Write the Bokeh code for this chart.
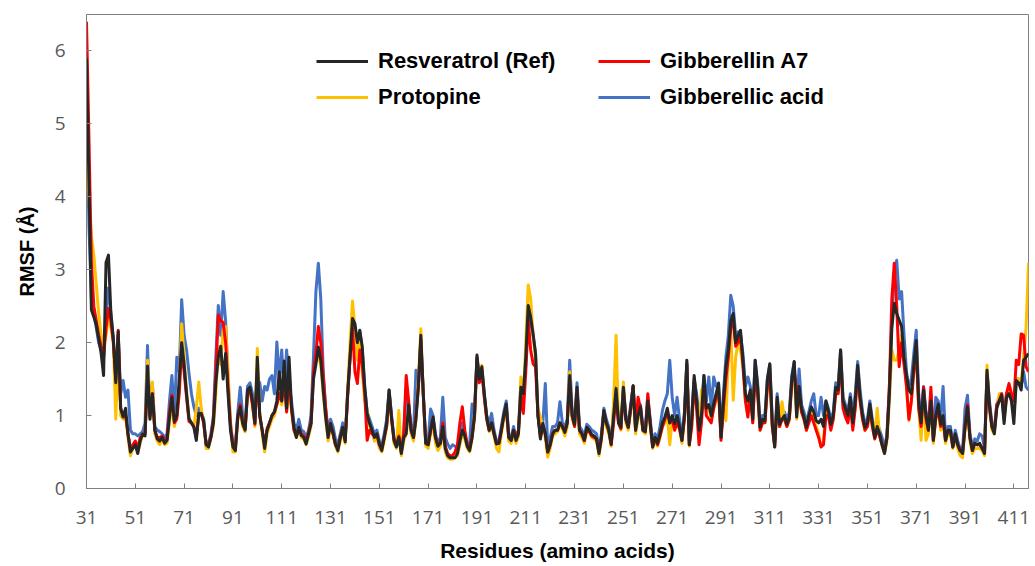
from bokeh.plotting import figure
from bokeh.models import Range1d, FixedTicker, Legend, LegendItem, ColumnDataSource
from bokeh.embed import file_html
from bokeh.resources import INLINE

residues = list(range(31, 418))
x_ticks = [31, 51, 71, 91, 111, 131, 151, 171, 191, 211, 231, 251, 271, 291, 311, 331, 351, 371, 391, 411]
y_ticks = [0, 1, 2, 3, 4, 5, 6]

resveratrol = [
    5.9, 4.2, 2.45, 2.35, 2.25, 2.05, 1.85, 1.55, 3.1, 3.2,
    2.4, 2.05, 1.45, 2.15, 1.1, 0.98, 1.1, 0.75, 0.5, 0.55,
    0.6, 0.48, 0.65, 0.75, 0.72, 1.68, 0.95, 1.3, 0.8, 0.68,
    0.65, 0.7, 0.62, 0.66, 0.98, 1.25, 0.92, 1.0, 1.5, 2.0,
    1.7, 1.3, 0.96, 0.9, 0.84, 0.66, 1.03, 1.03, 0.93, 0.6,
    0.57, 0.7, 0.9, 1.45, 1.8, 1.95, 1.5, 1.85, 1.3, 0.8,
    0.57, 0.52, 0.98, 1.12, 0.89, 0.8, 1.35, 1.39, 1.2, 0.9,
    1.8, 1.0, 0.8, 0.55, 0.8, 0.9, 1.0, 1.05, 1.2, 1.6,
    1.2, 1.75, 1.1, 1.8, 1.12, 0.84, 0.7, 0.84, 0.73, 0.7,
    0.61, 0.75, 0.89, 1.5, 1.7, 1.94, 1.76, 1.35, 0.98, 0.7,
    0.89, 0.77, 0.61, 0.52, 0.7, 0.84, 0.64, 1.3, 1.8, 2.33,
    2.26, 2.0, 2.17, 1.94, 1.39, 1.03, 0.89, 0.8, 0.7, 0.75,
    0.61, 0.52, 0.7, 0.89, 1.35, 0.98, 0.66, 0.57, 0.7, 0.48,
    0.7, 0.75, 1.15, 0.8, 0.7, 0.95, 1.4, 2.1, 1.3, 0.62,
    0.6, 0.8, 0.98, 0.7, 0.58, 0.62, 0.85, 0.55, 0.45, 0.42,
    0.42, 0.42, 0.48, 0.65, 0.8, 0.72, 0.58, 0.52, 0.7, 1.0,
    1.83, 1.5, 1.67, 1.3, 0.98, 0.8, 0.9, 0.75, 0.61, 0.62,
    0.8, 1.0, 1.16, 0.7, 0.66, 0.8, 0.66, 0.75, 1.39, 1.3,
    1.8, 2.51, 2.35, 2.12, 1.85, 1.0, 0.68, 0.89, 0.75, 0.5,
    0.6, 0.75, 0.8, 0.8, 0.9, 0.85, 0.77, 0.9, 1.55, 1.0,
    0.88, 1.39, 0.8, 0.75, 0.66, 0.84, 0.8, 0.74, 0.72, 0.68,
    0.48, 0.7, 1.07, 0.9, 0.8, 0.61, 1.0, 1.37, 0.9, 0.84,
    1.39, 0.95, 0.84, 1.1, 1.41, 0.8, 1.0, 1.12, 0.8, 0.78,
    1.2, 0.89, 0.57, 0.7, 0.62, 0.75, 0.9, 0.98, 1.1, 0.9,
    1.0, 0.89, 1.0, 0.85, 0.66, 1.0, 1.76, 0.6, 0.95, 1.55,
    1.2, 0.8, 1.0, 1.55, 1.1, 1.15, 1.0, 1.16, 1.3, 1.44,
    0.7, 1.2, 1.67, 1.9, 2.3, 2.4, 2.0, 2.1, 2.17, 1.76,
    1.3, 1.2, 1.35, 0.95, 1.76, 1.4, 0.84, 0.95, 0.93, 1.5,
    1.71, 0.9, 0.57, 1.25, 0.88, 0.95, 1.0, 0.88, 0.98, 1.5,
    1.74, 0.98, 1.4, 1.1, 0.98, 0.84, 1.0, 1.12, 1.05, 0.93,
    0.9, 0.95, 0.85, 1.2, 1.06, 0.88, 1.0, 1.39, 1.35, 1.9,
    1.2, 1.1, 1.0, 1.25, 0.9, 1.2, 1.69, 1.25, 1.0, 0.84,
    0.9, 1.16, 0.9, 0.7, 0.85, 0.75, 0.6, 0.48, 0.7, 1.3,
    2.2, 2.54, 2.4, 2.31, 2.22, 1.8, 1.55, 1.35, 1.3, 1.7,
    2.03, 1.2, 0.9, 1.35, 1.0, 0.8, 1.2, 0.66, 1.0, 1.16,
    0.88, 1.0, 0.66, 0.8, 0.8, 0.57, 0.75, 0.6, 0.52, 0.48,
    0.85, 1.12, 0.7, 0.52, 0.62, 0.6, 0.62, 0.55, 0.48, 1.62,
    1.15, 0.85, 0.75, 1.1, 1.2, 1.28, 0.89, 1.25, 1.3, 1.2,
    0.89, 1.48, 1.45, 1.35, 1.76, 1.8, 1.85,
]

gibberellin_a7 = [
    6.4, 4.8, 3.1, 2.5, 2.3, 2.1, 1.95, 1.8, 2.2, 2.47,
    2.3, 2.0, 1.5, 2.17, 1.1, 1.0, 1.0, 0.75, 0.55, 0.6,
    0.65, 0.55, 0.7, 0.72, 0.75, 1.5, 1.0, 1.3, 0.8, 0.7,
    0.7, 0.72, 0.66, 0.68, 1.05, 1.28, 0.9, 0.95, 1.3, 1.95,
    1.6, 1.25, 0.92, 0.9, 0.85, 0.7, 1.0, 1.03, 0.9, 0.62,
    0.6, 0.72, 0.95, 1.6, 2.38, 2.3, 2.28, 2.0, 1.4, 0.85,
    0.6, 0.55, 1.0, 1.15, 0.9, 0.82, 1.3, 1.35, 1.15, 0.88,
    1.6, 1.0, 0.8, 0.6, 0.82, 0.9, 1.0, 1.05, 1.15, 1.3,
    1.2, 1.5, 1.05, 1.6, 1.1, 0.8, 0.72, 0.82, 0.75, 0.72,
    0.65, 0.78, 0.9, 1.6, 1.85, 2.22, 2.0, 1.55, 1.1, 0.75,
    0.85, 0.75, 0.6, 0.55, 0.7, 0.82, 0.66, 1.25, 1.8, 2.2,
    1.6, 1.44, 1.9, 1.7, 1.3, 0.66, 0.8, 0.75, 0.72, 0.75,
    0.6, 0.55, 0.7, 0.85, 1.3, 0.95, 0.68, 0.6, 0.72, 0.5,
    0.75, 1.55, 1.2, 0.8, 0.7, 1.0, 1.4, 2.05, 1.3, 0.62,
    0.6, 0.8, 0.95, 0.7, 0.6, 0.62, 0.9, 0.58, 0.48, 0.45,
    0.45, 0.5, 0.6, 0.9, 1.12, 0.8, 0.6, 0.55, 0.72, 1.0,
    1.78, 1.45, 1.6, 1.25, 0.95, 0.8, 0.9, 0.75, 0.62, 0.62,
    0.8, 1.0, 1.1, 0.72, 0.66, 0.8, 0.7, 0.8, 1.3, 1.03,
    1.6, 2.31, 1.9, 1.71, 1.67, 1.0, 0.7, 0.88, 0.75, 0.5,
    0.6, 0.75, 0.8, 0.8, 0.9, 0.85, 0.78, 0.9, 1.5, 1.0,
    0.85, 1.35, 0.8, 0.75, 0.66, 0.8, 0.78, 0.72, 0.7, 0.68,
    0.5, 0.7, 1.05, 0.9, 0.8, 0.6, 0.9, 1.3, 0.9, 0.82,
    1.35, 0.95, 0.84, 1.1, 1.41, 0.8, 1.25, 1.1, 0.8, 0.78,
    1.3, 0.89, 0.57, 0.7, 0.6, 0.72, 0.85, 0.95, 1.05, 0.9,
    0.95, 0.8, 0.9, 0.82, 0.66, 0.95, 1.7, 0.6, 0.85, 1.45,
    1.1, 0.6, 0.9, 1.4, 1.0, 0.95, 0.9, 1.1, 1.25, 1.35,
    0.66, 1.1, 1.5, 1.8, 2.2, 2.3, 1.95, 2.0, 2.1, 1.7,
    1.2, 0.98, 1.3, 0.9, 1.6, 1.3, 0.8, 0.9, 0.9, 1.4,
    1.6, 0.85, 0.57, 1.2, 0.85, 0.95, 0.95, 0.85, 0.95, 1.45,
    1.6, 1.35, 1.3, 1.05, 0.95, 0.8, 0.9, 1.0, 0.9, 0.8,
    0.7, 0.57, 0.6, 1.0, 1.0, 0.8, 0.95, 1.3, 1.3, 1.8,
    1.1, 0.98, 0.9, 1.15, 0.8, 1.1, 1.6, 1.2, 0.95, 0.8,
    0.85, 1.1, 0.85, 0.68, 0.8, 0.72, 0.6, 0.5, 0.7, 1.4,
    2.6, 3.09, 2.5, 1.67, 2.0, 1.7, 1.4, 0.95, 1.2, 1.6,
    1.9, 1.1, 0.85, 1.39, 0.95, 0.8, 1.39, 0.66, 0.95, 1.1,
    0.85, 0.95, 0.66, 0.8, 0.78, 0.57, 0.72, 0.6, 0.52, 0.5,
    0.85, 1.15, 0.7, 0.52, 0.62, 0.6, 0.6, 0.55, 0.5, 1.55,
    1.1, 0.85, 0.78, 1.15, 1.2, 1.3, 1.0, 1.3, 1.44, 1.3,
    1.2, 1.76, 1.7, 2.12, 2.1, 1.67, 1.6,
]

protopine = [
    4.6, 4.0, 3.45, 3.2, 2.8, 2.4, 2.1, 1.95, 2.1, 2.35,
    2.2, 2.0, 0.95, 1.9, 1.0, 0.95, 1.0, 0.7, 0.45, 0.55,
    0.6, 0.5, 0.62, 0.75, 0.75, 1.76, 0.95, 1.46, 0.75, 0.65,
    0.6, 0.68, 0.6, 0.62, 0.9, 1.2, 0.85, 1.0, 1.4, 2.26,
    1.8, 1.35, 0.95, 0.9, 0.85, 1.1, 1.46, 1.1, 0.9, 0.55,
    0.55, 0.7, 0.85, 1.3, 1.94, 1.7, 2.19, 2.22, 1.6, 0.9,
    0.5, 0.5, 0.95, 1.05, 0.85, 0.78, 1.3, 1.35, 1.15, 0.85,
    1.92, 1.0, 0.75, 0.5, 0.75, 0.85, 0.95, 1.0, 1.15, 1.3,
    1.15, 1.5, 1.05, 1.5, 1.05, 0.8, 0.7, 0.8, 0.7, 0.68,
    0.6, 0.72, 0.85, 1.55, 1.76, 1.8, 1.7, 1.3, 0.95, 0.65,
    0.85, 0.75, 0.58, 0.5, 0.65, 0.8, 0.62, 1.35, 2.0, 2.57,
    2.2, 1.76, 2.0, 1.6, 1.2, 1.07, 0.85, 0.78, 0.65, 0.7,
    0.55, 0.5, 0.65, 0.85, 1.3, 0.95, 0.62, 0.55, 1.07, 0.45,
    0.65, 0.75, 1.1, 0.75, 0.65, 0.95, 1.5, 2.19, 1.3, 0.58,
    0.55, 0.75, 0.9, 0.62, 0.52, 0.58, 0.8, 0.5, 0.42, 0.4,
    0.4, 0.42, 0.45, 0.6, 0.75, 0.68, 0.55, 0.5, 0.68, 0.95,
    1.75, 1.5, 1.69, 1.25, 0.95, 0.78, 0.85, 0.72, 0.55, 0.5,
    0.75, 0.95, 1.1, 0.65, 0.62, 0.75, 0.62, 0.72, 1.53, 1.2,
    2.0, 2.79, 2.6, 2.1, 1.8, 1.1, 0.98, 0.85, 0.7, 0.43,
    0.55, 0.72, 0.75, 0.78, 0.85, 0.82, 0.72, 0.85, 1.6, 0.95,
    0.85, 1.35, 0.75, 0.7, 0.62, 0.8, 0.78, 0.7, 0.68, 0.65,
    0.45, 0.65, 1.0, 0.85, 0.75, 0.58, 1.2, 2.1, 0.9, 0.8,
    1.46, 0.9, 0.8, 1.05, 1.35, 0.75, 0.95, 1.05, 0.78, 0.75,
    1.1, 0.85, 0.55, 0.65, 0.58, 0.7, 0.85, 0.9, 1.0, 0.6,
    0.95, 0.85, 0.95, 0.8, 0.62, 0.95, 1.7, 0.58, 0.85, 1.5,
    1.15, 0.75, 1.35, 1.4, 1.05, 1.1, 0.95, 1.1, 1.2, 1.35,
    0.7, 1.1, 0.93, 1.8, 2.2, 1.21, 1.8, 1.99, 1.9, 1.65,
    1.2, 1.1, 1.3, 0.9, 1.6, 1.35, 0.8, 0.9, 0.9, 1.4,
    1.6, 0.85, 0.6, 1.2, 0.85, 1.19, 0.95, 0.85, 0.95, 1.4,
    1.65, 0.95, 1.35, 1.05, 0.95, 0.8, 0.95, 1.05, 0.95, 0.85,
    0.75, 0.57, 0.65, 1.1, 1.0, 0.85, 0.95, 1.3, 1.3, 1.85,
    1.15, 1.0, 0.95, 1.2, 0.85, 1.15, 1.6, 1.2, 0.95, 0.8,
    0.85, 1.1, 0.85, 0.7, 1.1, 0.72, 0.58, 0.48, 0.65, 1.2,
    1.9, 1.76, 1.76, 1.9, 2.1, 1.8, 1.4, 0.93, 1.2, 1.65,
    1.95, 1.1, 0.66, 1.3, 0.66, 0.75, 1.2, 0.62, 0.95, 1.1,
    0.8, 0.9, 0.62, 0.75, 0.75, 0.55, 0.7, 0.55, 0.45, 0.42,
    0.8, 1.1, 0.65, 0.48, 0.55, 0.55, 0.55, 0.52, 0.45, 1.69,
    1.1, 0.8, 0.75, 1.1, 1.3, 1.3, 0.95, 1.25, 1.35, 1.25,
    1.0, 1.5, 1.5, 1.45, 1.8, 2.2, 3.09,
]

gibberellic_acid = [
    5.5, 3.6, 2.6, 2.4, 2.2, 2.0, 1.9, 1.8, 2.4, 2.75,
    2.4, 2.05, 1.5, 2.1, 1.3, 1.48, 1.25, 1.35, 0.8, 0.75,
    0.75, 0.72, 0.75, 0.78, 0.9, 1.96, 1.0, 1.44, 0.85, 0.8,
    0.78, 0.75, 0.7, 0.75, 1.2, 1.55, 1.0, 1.8, 1.6, 2.59,
    2.1, 1.9, 1.58, 1.3, 1.12, 1.0, 1.1, 1.05, 0.95, 0.62,
    0.62, 0.75, 1.0, 1.8, 2.51, 2.1, 2.7, 2.3, 1.5, 0.9,
    0.62, 0.6, 1.05, 1.39, 1.0, 0.9, 1.4, 1.45, 1.3, 0.95,
    1.5, 1.45, 1.2, 1.4, 1.35, 1.5, 1.55, 1.3, 2.01, 1.5,
    1.9, 1.3, 1.9, 1.4, 1.2, 0.9, 0.8, 0.95, 0.8, 0.78,
    0.7, 0.8, 1.0, 1.8, 2.7, 3.09, 2.6, 1.6, 1.1, 0.8,
    0.95, 0.85, 0.68, 0.6, 0.75, 0.9, 0.7, 1.3, 1.8, 2.3,
    2.2, 2.0, 2.15, 1.9, 1.4, 1.05, 0.95, 0.85, 0.75, 0.8,
    0.65, 0.6, 0.75, 0.95, 1.35, 1.0, 0.7, 0.62, 0.75, 0.55,
    0.75, 1.39, 1.15, 0.85, 0.75, 1.62, 1.4, 2.0, 1.3, 0.65,
    0.65, 1.09, 1.0, 0.75, 0.62, 0.7, 1.25, 0.7, 0.61, 0.55,
    0.6, 0.58, 0.55, 0.7, 0.9, 0.75, 0.62, 0.6, 1.16, 1.05,
    1.8, 1.5, 1.65, 1.3, 1.0, 0.9, 1.03, 0.8, 0.65, 0.65,
    0.85, 1.05, 1.2, 0.75, 0.7, 0.85, 0.7, 0.8, 1.45, 1.3,
    1.7, 2.45, 2.3, 2.1, 1.85, 1.0, 0.75, 0.9, 1.44, 0.55,
    0.7, 0.85, 0.85, 0.9, 1.19, 0.9, 0.85, 0.95, 1.76, 1.05,
    0.95, 1.45, 0.85, 0.8, 0.72, 0.88, 0.85, 0.8, 0.78, 0.75,
    0.55, 0.75, 1.1, 0.95, 0.85, 0.65, 1.05, 1.4, 0.95, 0.9,
    1.4, 1.0, 0.9, 1.15, 1.4, 0.85, 1.05, 1.15, 0.85, 0.82,
    1.25, 0.95, 0.62, 0.75, 0.68, 0.85, 1.07, 1.2, 1.3, 1.76,
    1.25, 1.0, 1.25, 0.95, 0.7, 1.05, 1.72, 0.65, 1.0, 1.5,
    1.3, 1.0, 1.1, 1.55, 1.2, 1.53, 1.1, 1.53, 1.4, 1.45,
    0.8, 1.3, 1.8, 2.1, 2.65, 2.5, 2.1, 2.15, 2.1, 1.85,
    1.4, 1.53, 1.4, 1.05, 1.75, 1.45, 0.9, 1.0, 1.0, 1.5,
    1.7, 0.95, 0.62, 1.3, 0.95, 1.05, 1.05, 0.95, 1.05, 1.55,
    1.74, 1.05, 1.64, 1.15, 1.05, 0.9, 1.05, 1.2, 1.3, 1.0,
    1.0, 1.25, 1.0, 1.2, 1.1, 0.95, 1.05, 1.45, 1.4, 1.9,
    1.25, 1.15, 1.05, 1.3, 1.0, 1.3, 1.74, 1.35, 1.05, 0.9,
    0.95, 1.2, 0.95, 0.78, 0.9, 0.8, 0.7, 0.55, 0.75, 1.4,
    2.3, 2.95, 3.13, 2.6, 2.7, 2.1, 1.6, 1.4, 1.5, 1.85,
    2.17, 1.3, 0.95, 1.4, 1.05, 0.9, 1.3, 0.75, 1.25, 1.2,
    0.95, 1.4, 0.7, 0.85, 0.85, 0.62, 0.8, 0.65, 0.55, 0.52,
    1.1, 1.28, 0.75, 0.58, 0.68, 0.65, 0.75, 0.72, 0.55, 1.6,
    1.2, 0.9, 0.8, 1.15, 1.25, 1.3, 0.95, 1.3, 1.35, 1.25,
    1.0, 1.5, 1.5, 1.4, 1.6, 1.39, 1.35,
]

for name, arr in [("resveratrol", resveratrol), ("gibberellin_a7", gibberellin_a7),
                  ("protopine", protopine), ("gibberellic_acid", gibberellic_acid)]:
    if len(arr) != len(residues):
        raise ValueError(f"{name}: {len(arr)} values vs {len(residues)} residues")

src = ColumnDataSource(dict(x=residues, k=resveratrol, r=gibberellin_a7,
                            y=protopine, b=gibberellic_acid))

p = figure(width=1035, height=566, output_backend="svg", toolbar_location=None,
           x_range=Range1d(31, 417), y_range=Range1d(0, 6.5),
           min_border_left=86, min_border_right=7, min_border_top=14, min_border_bottom=78)

p.background_fill_color = "white"
p.border_fill_color = "white"
p.outline_line_color = "#808080"
p.outline_line_width = 1
p.xgrid.visible = False
p.ygrid.visible = False

LW = 3
rb = p.line("x", "b", source=src, line_color="#4472C4", line_width=LW, line_join="round")
ry = p.line("x", "y", source=src, line_color="#FFC000", line_width=LW, line_join="round")
rr = p.line("x", "r", source=src, line_color="#FF0000", line_width=LW, line_join="round")
rk = p.line("x", "k", source=src, line_color="#262626", line_width=LW, line_join="round")

for ax in (p.xaxis[0], p.yaxis[0]):
    ax.axis_line_color = "#808080"
    ax.major_tick_line_color = "#808080"
    ax.major_tick_in = 5
    ax.major_tick_out = 0
    ax.minor_tick_line_color = None
    ax.major_label_text_font = "Open Sans"
    ax.major_label_text_font_size = "19px"
    ax.major_label_text_color = "#595959"
    ax.axis_label_text_font = "Liberation Sans"
    ax.axis_label_text_font_style = "bold"
    ax.axis_label_text_color = "#000000"

p.xaxis.axis_label_text_font_size = "21px"
p.yaxis.axis_label_text_font_size = "20px"
p.xaxis.ticker = FixedTicker(ticks=x_ticks)
p.yaxis.ticker = FixedTicker(ticks=y_ticks)
p.xaxis.axis_label = "Residues (amino acids)"
p.yaxis.axis_label = "RMSF (Å)"
p.xaxis.major_label_standoff = 22
p.xaxis.axis_label_standoff = 12
p.yaxis.major_label_standoff = 21
p.yaxis.axis_label_standoff = 14

def make_legend(items, loc):
    leg = Legend(items=items, location=loc, orientation="vertical",
                 glyph_width=52, glyph_height=24, label_height=24, spacing=10,
                 padding=0, margin=0, label_standoff=10,
                 border_line_color=None, background_fill_alpha=0,
                 label_text_font="Liberation Sans", label_text_font_style="bold",
                 label_text_font_size="22px", label_text_color="#000000")
    return leg

leg1 = make_legend([LegendItem(label="Resveratrol (Ref)", renderers=[rk]),
                    LegendItem(label="Protopine", renderers=[ry])], (230, 378))
leg2 = make_legend([LegendItem(label="Gibberellin A7", renderers=[rr]),
                    LegendItem(label="Gibberellic acid", renderers=[rb])], (512, 378))
p.add_layout(leg1)
p.add_layout(leg2)

open("out.html", "w").write(file_html(p, INLINE))
